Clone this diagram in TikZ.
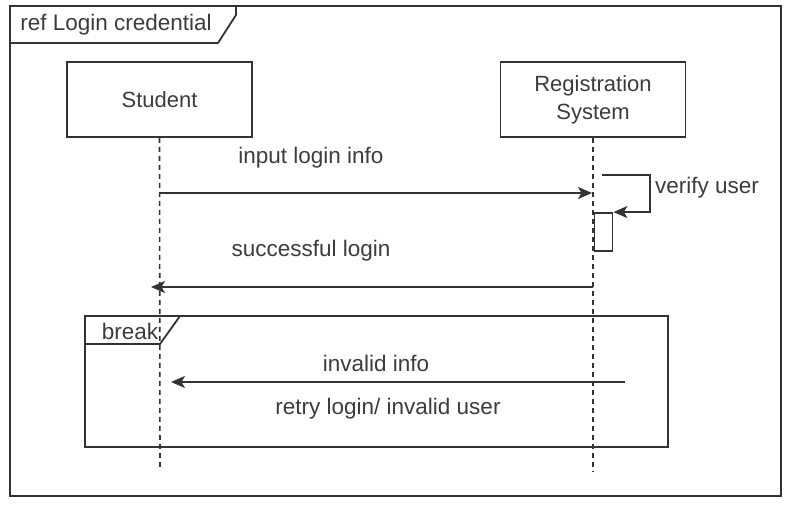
\documentclass[tikz,border=0pt]{standalone}
\usepackage{fontspec}
\setmainfont{Liberation Sans}
\usetikzlibrary{arrows.meta}
\definecolor{ln}{HTML}{333333}
\definecolor{tx}{HTML}{3C3C3C}
\tikzset{
  base/.style={line width=1.8pt, draw=ln},
  lifebox/.style={base, rectangle, minimum width=185pt, minimum height=75pt, inner sep=0pt, align=center, font=\fontsize{22}{28}\selectfont, text=tx},
  lbl/.style={inner sep=0pt, font=\fontsize{22.5}{26}\selectfont, text=tx},
  lifeline/.style={line width=1.6pt, draw=ln, dash pattern=on 5pt off 4pt},
  msg/.style={base, -{Stealth[length=14pt,width=12pt,inset=3.5pt]}},
}
\begin{document}
\begin{tikzpicture}[x=1pt,y=-1pt]
\useasboundingbox (0,0) rectangle (795,510);
% outer ref frame
\draw[base] (10,6) rectangle (781,496);
\draw[base] (236,6) -- (236,15) -- (218,43) -- (10,43);
\node[lbl] (reftitle) at (116,25) {ref Login credential};
% lifeline heads
\node[lifebox] (student) at (159.5,99.5) {Student};
\node[lifebox] (reg) at (593,99.5) {Registration\\System};
% lifelines
\coordinate (sEnd) at (160,470);
\coordinate (rEnd) at (593,472);
\draw[lifeline] (student.south) -- (sEnd);
\draw[lifeline] (reg.south) -- (rEnd);
% message 1
\coordinate (s1) at (160,193);
\coordinate (r1) at (592,193);
\draw[msg] (s1) -- (r1);
\node[lbl] (m1) at (311,158) {input login info};
% self message and activation
\node[base, rectangle, minimum width=18pt, minimum height=38pt, inner sep=0pt] (act) at (603.5,232) {};
\coordinate (selfA) at (602,175);
\coordinate (selfB) at (650,175);
\coordinate (selfC) at (650,212);
\draw[msg] (selfA) -- (selfB) -- (selfC) -- (act.north east);
\node[lbl, anchor=west] (m2) at (655,188) {verify user};
% message 2
\coordinate (r2) at (593,287);
\coordinate (s2) at (151,287);
\draw[msg] (r2) -- (s2);
\node[lbl] (m3) at (311,251) {successful login};
% break fragment
\draw[base] (85,316) rectangle (668,447);
\draw[base] (180,316) -- (160,344) -- (85,344);
\node[lbl] (brk) at (130,331) {break};
% message 3
\coordinate (r3) at (625,382);
\coordinate (s3) at (171,382);
\draw[msg] (r3) -- (s3);
\node[lbl] (m4) at (376,363) {invalid info};
\node[lbl] (m5) at (388,409) {retry login/ invalid user};
\end{tikzpicture}
\end{document}
